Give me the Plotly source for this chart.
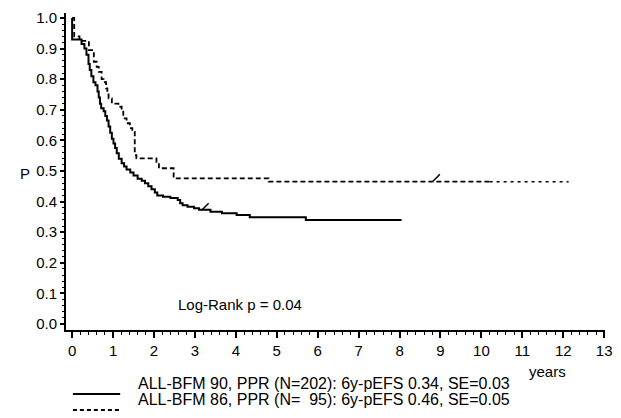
import plotly.graph_objects as go

# ---- data ----
solid_t = [0, 0, 0.23, 0.30, 0.35, 0.40, 0.43, 0.47, 0.52, 0.57, 0.62, 0.65, 0.68, 0.71, 0.77,
           0.81, 0.85, 0.89, 0.93, 0.97, 1.01, 1.05, 1.09, 1.14, 1.21, 1.27, 1.33, 1.42, 1.50,
           1.60, 1.70, 1.78, 1.86, 1.94, 2.02, 2.08, 2.22, 2.40, 2.58, 2.64, 2.70, 2.82, 2.98,
           3.10, 3.38, 3.66, 4.02, 4.34, 5.71, 8.05]
solid_p = [1.0, 0.93, 0.915, 0.90, 0.88, 0.85, 0.83, 0.81, 0.79, 0.78, 0.76, 0.74, 0.72, 0.705, 0.695,
           0.68, 0.665, 0.645, 0.625, 0.605, 0.59, 0.575, 0.558, 0.54, 0.525, 0.515, 0.505, 0.495, 0.485,
           0.475, 0.468, 0.46, 0.45, 0.44, 0.43, 0.42, 0.416, 0.412, 0.405, 0.395, 0.388, 0.383, 0.378,
           0.373, 0.367, 0.362, 0.356, 0.349, 0.34, 0.34]

dash_t = [0, 0.05, 0.18, 0.41, 0.49, 0.53, 0.60, 0.65, 0.72, 0.77, 0.83, 0.86, 0.89, 0.97, 1.13,
          1.21, 1.25, 1.33, 1.41, 1.47, 1.53, 1.57, 2.06, 2.12, 2.48, 4.80, 10.2, 12.13]
dash_p = [1.0, 0.94, 0.925, 0.895, 0.885, 0.857, 0.84, 0.824, 0.80, 0.79, 0.77, 0.75, 0.737, 0.72, 0.71,
          0.70, 0.672, 0.656, 0.64, 0.628, 0.552, 0.541, 0.53, 0.509, 0.476, 0.465, 0.465, 0.465]
dash_sparse_from = 10.2  # beyond this time the dashed curve is drawn with sparser dashes

censor_solid_t = [3.25]
censor_solid_p = [0.37]
censor_dash_t = [8.9]
censor_dash_p = [0.465]

x_ticks = list(range(0, 14))
y_ticks = [round(i * 0.1, 1) for i in range(0, 11)]
y_tick_labels = [f"{v:.1f}" for v in y_ticks]

legend_labels = ["ALL-BFM 90, PPR (N=202): 6y-pEFS 0.34, SE=0.03",
                 "ALL-BFM 86, PPR (N=\u00a0\u00a095): 6y-pEFS 0.46, SE=0.05"]
logrank_text = "Log-Rank p = 0.04"

# ---- layout geometry (pixels) ----
W, H = 621, 418
ML, MR, MT, MB = 66, 8, 13, 88
PW, PH = W - ML - MR, H - MT - MB
YMIN, YMAX = -0.0196, 1.0163
FONT = "Liberation Sans, Arial, sans-serif"


def px_x(px):
    return (px - ML) / PW


def px_y(py):
    return (H - MB - py) / PH


cens_off = 4 * (YMAX - YMIN) / PH

main_idx = [i for i, t in enumerate(dash_t) if t <= dash_sparse_from]
tail_idx = [i for i, t in enumerate(dash_t) if t >= dash_sparse_from]

fig = go.Figure()
fig.add_trace(go.Scatter(x=solid_t, y=solid_p, mode="lines", line=dict(shape="hv", color="black", width=2),
                         showlegend=False, hoverinfo="skip"))
fig.add_trace(go.Scatter(x=[dash_t[i] for i in main_idx], y=[dash_p[i] for i in main_idx], mode="lines",
                         line=dict(shape="hv", color="black", width=1.8, dash="5px,3px"),
                         showlegend=False, hoverinfo="skip"))
fig.add_trace(go.Scatter(x=[dash_t[i] for i in tail_idx], y=[dash_p[i] for i in tail_idx], mode="lines",
                         line=dict(shape="hv", color="black", width=1.5, dash="3px,4px"),
                         showlegend=False, hoverinfo="skip"))
fig.add_trace(go.Scatter(x=censor_solid_t + censor_dash_t,
                         y=[v + cens_off for v in censor_solid_p + censor_dash_p], mode="markers",
                         marker=dict(symbol="line-ne", size=7, line=dict(color="black", width=1.5)),
                         showlegend=False, hoverinfo="skip"))

fig.update_xaxes(range=[-0.15, 13.02], tickvals=x_ticks, ticktext=[str(v) for v in x_ticks],
                 showline=True, linecolor="black", linewidth=2, showgrid=False, zeroline=False,
                 ticks="outside", ticklen=6, tickwidth=1.5, tickcolor="black",
                 minor=dict(dtick=0.2, ticks="outside", ticklen=3, tickwidth=1, tickcolor="black", showgrid=False),
                 tickfont=dict(family=FONT, size=15, color="black"), fixedrange=True)
fig.update_yaxes(range=[YMIN, YMAX], tickvals=y_ticks, ticktext=y_tick_labels,
                 showline=True, linecolor="black", linewidth=2, showgrid=False, zeroline=False,
                 ticks="outside", ticklen=4, tickwidth=1.5, tickcolor="black",
                 minor=dict(dtick=0.02, ticks="outside", ticklen=2, tickwidth=1, tickcolor="black", showgrid=False),
                 tickfont=dict(family=FONT, size=15, color="black"), fixedrange=True)

annotations = [
    dict(text="P", xref="paper", yref="paper", x=px_x(17), y=px_y(173), showarrow=False,
         font=dict(family=FONT, size=15, color="black")),
    dict(text=logrank_text, xref="x", yref="paper", x=4.1, y=px_y(315), showarrow=False,
         font=dict(family=FONT, size=15, color="black")),
    dict(text="years", xref="paper", yref="paper", x=px_x(575), y=px_y(382), showarrow=False,
         font=dict(family=FONT, size=15, color="black")),
]
shapes = []
leg_y = [394, 410]
leg_dash = ["solid", "4px,3px"]
for lab, ly, dsh in zip(legend_labels, leg_y, leg_dash):
    shapes.append(dict(type="line", xref="paper", yref="paper", x0=px_x(73), x1=px_x(121),
                       y0=px_y(ly), y1=px_y(ly), line=dict(color="black", width=1.8, dash=dsh)))
    annotations.append(dict(text=lab, xref="paper", yref="paper", x=px_x(137), y=px_y(ly),
                            xanchor="left", showarrow=False, font=dict(family=FONT, size=16, color="black")))

fig.update_layout(width=W, height=H, margin=dict(l=ML, r=MR, t=MT, b=MB),
                  paper_bgcolor="white", plot_bgcolor="white", annotations=annotations, shapes=shapes,
                  font=dict(family=FONT, color="black"))
fig.write_html("out.html", config={"displayModeBar": False},
               post_script="document.body.style.margin='0';document.body.style.overflow='hidden';")
